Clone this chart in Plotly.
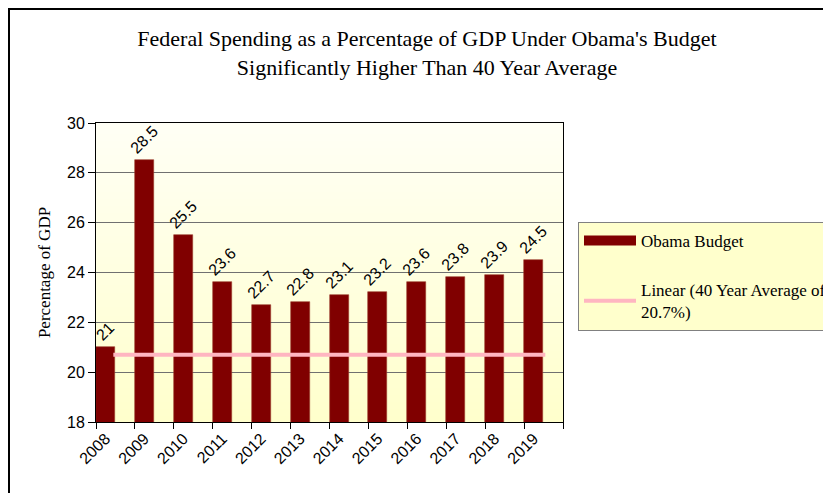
import base64, struct, zlib
import plotly.graph_objects as go

# ---- data ----
years = ["2008", "2009", "2010", "2011", "2012", "2013",
         "2014", "2015", "2016", "2017", "2018", "2019"]
spending = [21, 28.5, 25.5, 23.6, 22.7, 22.8, 23.1, 23.2, 23.6, 23.8, 23.9, 24.5]
average_40yr = 20.7
bar_name = "Obama Budget"
trend_name = "Linear (40 Year Average of<br>20.7%)"
title_text = ("Federal Spending as a Percentage of GDP Under Obama's Budget<br>"
              "Significantly Higher Than 40 Year Average")
y_title = "Percentage of GDP"

# category slots: each year occupies [i, i+1]; bar sits in left half
n = len(years)
bar_w = 0.49
centers = [i + bar_w / 2 for i in range(n)]
labels = [f"{v:g}" for v in spending]

MAROON = "#800000"
PINK = "#FFB6C1"
SERIF = "Liberation Serif, Times New Roman, serif"
SANS = "Arial, Liberation Sans, sans-serif"


def gradient_png(top, bottom, h=128):
    raw = b""
    for r in range(h):
        t = r / (h - 1)
        px = bytes(int(round(top[k] + (bottom[k] - top[k]) * t)) for k in range(3))
        raw += b"\x00" + px
    def chunk(tag, data):
        c = struct.pack(">I", len(data)) + tag + data
        return c + struct.pack(">I", zlib.crc32(tag + data) & 0xffffffff)
    png = b"\x89PNG\r\n\x1a\n"
    png += chunk(b"IHDR", struct.pack(">IIBBBBB", 1, h, 8, 2, 0, 0, 0))
    png += chunk(b"IDAT", zlib.compress(raw))
    png += chunk(b"IEND", b"")
    return "data:image/png;base64," + base64.b64encode(png).decode()


fig = go.Figure()

fig.add_trace(go.Bar(
    x=centers, y=spending, width=bar_w,
    marker=dict(color=MAROON, line=dict(color="#9a3a2a", width=0.6)),
    text=labels, textposition="outside", textangle=-45,
    textfont=dict(family=SANS, size=16, color="black"),
    constraintext="none", cliponaxis=False,
    showlegend=False, hoverinfo="x+y",
))

# legend swatch for bars
fig.add_trace(go.Scatter(
    x=[None], y=[None], mode="lines",
    line=dict(color=MAROON, width=10),
    name=bar_name, legendgroup="a", showlegend=True,
))

# 40-year average trend line
fig.add_trace(go.Scatter(
    x=[centers[0] + 0.2, centers[-1] + 0.3],
    y=[average_40yr, average_40yr],
    mode="lines", line=dict(color=PINK, width=4),
    name=trend_name, legendgroup="b", showlegend=True,
))

# page body adds an 8px offset, so the figure is 8px smaller than the window
OFF = 8
W, H = 831 - OFF, 493 - OFF
L, T = 96 - OFF, 123 - OFF
R = W - (563 - OFF)
B = H - (422 - OFF)
pw, ph = W - L - R, H - T - B

def px_x(p):
    return (p - OFF - L) / pw

def px_y(p):
    return (H - B - (p - OFF)) / ph

fig.update_layout(
    width=W, height=H,
    margin=dict(l=L, r=R, t=T, b=B, autoexpand=False),
    paper_bgcolor="white",
    plot_bgcolor="#FFFFE0",
    title=dict(text=title_text, x=(427 - OFF) / W, xanchor="center",
               y=1 - (46 - OFF) / H, yanchor="top",
               font=dict(family=SERIF, size=22, color="black")),
    legend=dict(x=px_x(578), y=px_y(222), xanchor="left", yanchor="top",
                bgcolor="#FFFFCC", bordercolor="#808080", borderwidth=1,
                font=dict(family=SERIF, size=17, color="black"),
                traceorder="grouped", tracegroupgap=24,
                itemwidth=52),
    bargap=0,
    images=[dict(source=gradient_png((255, 255, 245), (255, 255, 204)),
                 xref="paper", yref="paper", x=0, y=1, sizex=1, sizey=1,
                 sizing="stretch", layer="below", xanchor="left", yanchor="top")],
    shapes=[dict(type="rect", xref="paper", yref="paper",
                 x0=px_x(9), x1=px_x(845), y0=px_y(505), y1=px_y(9),
                 line=dict(color="black", width=2), layer="below")],
)

fig.update_xaxes(
    type="linear", range=[0, n],
    tickmode="array", tickvals=centers, ticktext=years,
    tickangle=-45, ticks="",
    tickfont=dict(family=SANS, size=16, color="black"),
    showgrid=False, zeroline=False,
    showline=True, linecolor="black", linewidth=1, mirror=True,
    minor=dict(tickmode="array", tickvals=list(range(n + 1)),
               ticks="outside", ticklen=6, tickcolor="black", showgrid=False),
)

fig.update_yaxes(
    range=[18, 30], dtick=2, tick0=18,
    ticks="outside", ticklen=7, tickcolor="black",
    tickfont=dict(family=SANS, size=16, color="black"),
    showgrid=True, gridcolor="#707070", gridwidth=1,
    zeroline=False,
    showline=True, linecolor="black", linewidth=1, mirror=True,
    title=dict(text=y_title, font=dict(family=SERIF, size=17, color="black"),
               standoff=12),
)

fig.write_html("out.html")
